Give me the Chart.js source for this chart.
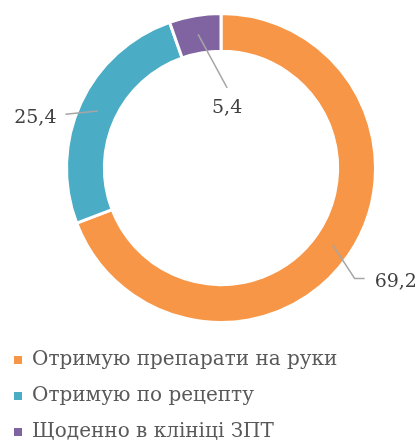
<!DOCTYPE html>
<html lang="uk">
<head>
    <meta charset="UTF-8">
    <title>Doughnut</title>
    <script src="https://cdn.jsdelivr.net/npm/chart.js"></script>
    <style>
        body { margin: 0; background: #fff; }
    </style>
</head>
<body>
    <canvas id="myChart" width="420" height="442"></canvas>

    <script>
        // categories and values (%)
        const categories = ['Отримую препарати на руки', 'Отримую по рецепту', 'Щоденно в клініці ЗПТ'];
        const values = [69.2, 25.4, 5.4];
        const colors = ['#F79646', '#4BACC6', '#8064A2'];

        // leader lines for the value labels, offsets from the middle of each arc
        const leaders = [
            { points: [[22, 33.5], [32, 33.5]], text: [42, 42], align: 'left' },
            { points: [[-32.5, 3.3]], text: [-41.5, 11.5], align: 'right' },
            { points: [[29, 53.6]], text: [29, 79], align: 'center' }
        ];

        const valueLabels = {
            id: 'valueLabels',
            afterLayout(chart) {
                // legend sits at the left edge while the ring is pushed right
                const lg = chart.legend;
                const w = lg.right - lg.left;
                lg.left = -2;
                lg.right = lg.left + w;
            },
            afterDatasetsDraw(chart) {
                const ctx = chart.ctx;
                const meta = chart.getDatasetMeta(0);
                meta.data.forEach((arc, i) => {
                    const p = arc.getProps(['x', 'y', 'startAngle', 'endAngle', 'innerRadius', 'outerRadius'], true);
                    const a = (p.startAngle + p.endAngle) / 2;
                    const r = (p.innerRadius + p.outerRadius) / 2;
                    const ax = p.x + Math.cos(a) * r;
                    const ay = p.y + Math.sin(a) * r;
                    const l = leaders[i];
                    ctx.save();
                    ctx.strokeStyle = '#A6A6A6';
                    ctx.lineWidth = 1.5;
                    ctx.beginPath();
                    ctx.moveTo(ax, ay);
                    l.points.forEach(pt => ctx.lineTo(ax + pt[0], ay + pt[1]));
                    ctx.stroke();
                    ctx.fillStyle = '#404040';
                    ctx.font = '19px "DejaVu Serif"';
                    ctx.textAlign = l.align;
                    ctx.textBaseline = 'alphabetic';
                    const txt = values[i].toFixed(1).replace('.', ',');
                    ctx.fillText(txt, ax + l.text[0], ay + l.text[1]);
                    ctx.restore();
                });
            }
        };

        const config = {
            type: 'doughnut',
            data: {
                labels: categories,
                datasets: [{
                    data: values,
                    backgroundColor: colors,
                    borderColor: '#ffffff',
                    borderWidth: 3,
                    radius: 154.5,
                    cutout: '75.5%'
                }]
            },
            options: {
                responsive: false,
                animation: false,
                layout: {
                    padding: { top: 2, left: 22, right: 0, bottom: -10 }
                },
                plugins: {
                    tooltip: { enabled: false },
                    legend: {
                        position: 'bottom',
                        align: 'start',
                        labels: {
                            boxWidth: 8,
                            boxHeight: 8,
                            padding: 16,
                            color: '#595959',
                            font: { family: 'DejaVu Serif', size: 20 },
                            generateLabels(chart) {
                                const items = Chart.overrides.doughnut.plugins.legend.labels.generateLabels(chart);
                                items.forEach(it => { it.lineWidth = 0; });
                                return items;
                            }
                        }
                    }
                }
            },
            plugins: [valueLabels]
        };

        new Chart(document.getElementById('myChart'), config);
    </script>
</body>
</html>
